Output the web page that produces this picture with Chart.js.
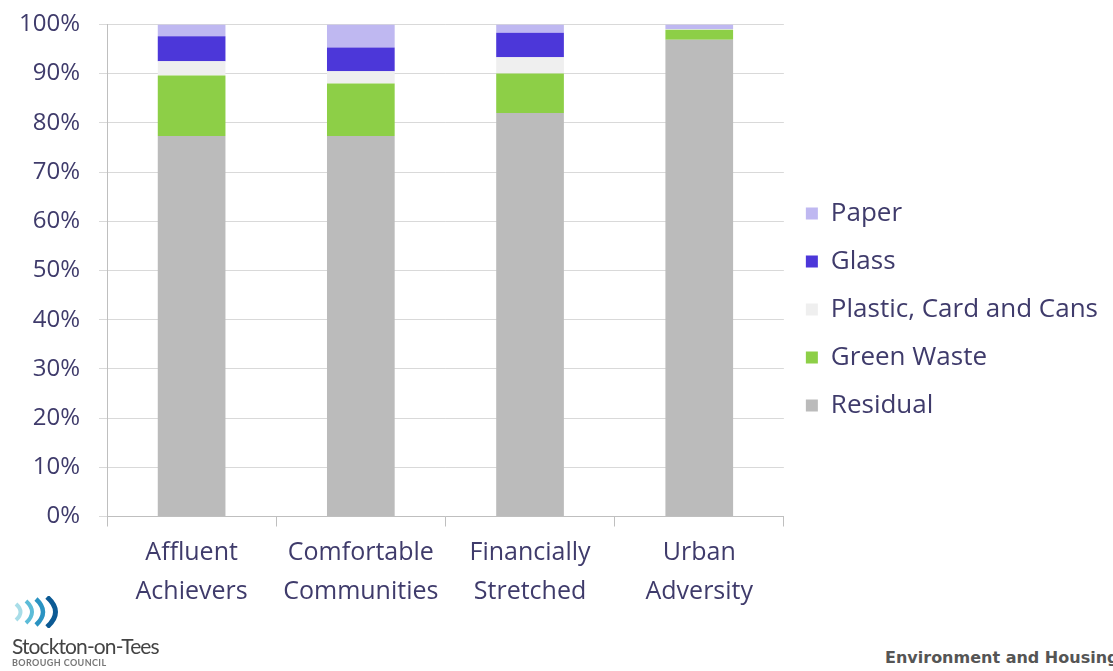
<!DOCTYPE html>
<html>
<head>
<meta charset="utf-8">
<script src="https://cdn.jsdelivr.net/npm/chart.js@4/dist/chart.umd.min.js"></script>
<style>
  body { margin: 0; background: #fff; width: 1113px; height: 671px; overflow: hidden; position: relative; }
  #wrap { position: absolute; left: 0; top: -9px; width: 1113px; height: 630px; }
  .logo { position: absolute; left: 12px; top: 596px; font-family: Lato, sans-serif; color: #444; }
  .logo .name { font-size: 21px; letter-spacing: -0.9px; line-height: 22px; margin-top: 4px; }
  .logo .sub { font-size: 9px; font-weight: bold; letter-spacing: 0.4px; color: #777; line-height: 12px; }
  .foot { position: absolute; left: 885px; top: 648px; font-family: "DejaVu Sans", sans-serif; font-size: 16px; font-weight: bold; color: #555; white-space: nowrap; }
</style>
</head>
<body>
<div id="wrap"><canvas id="canvas_grafica" width="1113" height="630"></canvas></div>
<div class="logo">
  <svg width="62" height="32" viewBox="0 0 62 32">
    <path d="M4 8 Q13 16 4 24" stroke="#a8dde8" stroke-width="4" fill="none"/>
    <path d="M14 5 Q26 16 14 27" stroke="#5cbcd8" stroke-width="4" fill="none"/>
    <path d="M24 3 Q38 16 24 29" stroke="#2a93c2" stroke-width="4.5" fill="none"/>
    <path d="M35 1 Q52 16 35 31" stroke="#0c5a94" stroke-width="5" fill="none"/>
  </svg>
  <div class="name">Stockton-on-Tees</div>
  <div class="sub">BOROUGH COUNCIL</div>
</div>
<div class="foot">Environment and Housing</div>
<script>
const categorias = [["Affluent", "Achievers"], ["Comfortable", "Communities"], ["Financially", "Stretched"], ["Urban", "Adversity"]];
const residual = [77.3, 77.3, 82.0, 96.9];
const greenWaste = [12.3, 10.7, 8.0, 2.0];
const plastico = [2.9, 2.5, 3.3, 0.1];
const vidrio = [5.1, 4.8, 5.0, 0.0];
const papel = [2.4, 4.7, 1.7, 1.0];

let colorTexto = '#3f3b6b';
let fuente = 'Open Sans';
let canvas_graf = document.getElementById("canvas_grafica");

new Chart(canvas_graf, {
    type: 'bar',
    data: {
        labels: categorias,
        datasets: [
            { label: "Residual", data: residual, backgroundColor: '#bbbbbb' },
            { label: "Green Waste", data: greenWaste, backgroundColor: '#8dcf47' },
            { label: "Plastic, Card and Cans", data: plastico, backgroundColor: '#efefef' },
            { label: "Glass", data: vidrio, backgroundColor: '#4c37d9' },
            { label: "Paper", data: papel, backgroundColor: '#bfb8f1' }
        ]
    },
    options: {
        responsive: false,
        animation: false,
        categoryPercentage: 0.5,
        barPercentage: 0.8,
        layout: { padding: { top: 4, left: 0, right: 5, bottom: 3 } },
        scales: {
            x: {
                stacked: true,
                grid: { drawOnChartArea: false, tickLength: 10, color: '#bfbfbf' },
                border: { color: '#bfbfbf' },
                ticks: { color: colorTexto, font: { family: fuente, size: 25, lineHeight: 1.55 }, padding: 7 }
            },
            y: {
                stacked: true,
                min: 0,
                max: 100,
                ticks: {
                    stepSize: 10,
                    color: colorTexto,
                    font: { family: fuente, size: 24 },
                    padding: 19,
                    callback: v => v + '%'
                },
                grid: { color: '#d9d9d9', tickLength: 8 },
                border: { color: '#bfbfbf' }
            }
        },
        plugins: {
            tooltip: { enabled: false },
            legend: {
                position: 'right',
                reverse: true,
                align: 'center',
                maxWidth: 420,
                // titulo vacio solo para bajar un poco las etiquetas
                title: { display: true, text: '', font: { size: 5 }, padding: 0 },
                labels: {
                    color: colorTexto,
                    font: { family: fuente, size: 26 },
                    boxWidth: 12,
                    boxHeight: 12,
                    padding: 22
                }
            }
        }
    }
});
</script>
</body>
</html>
